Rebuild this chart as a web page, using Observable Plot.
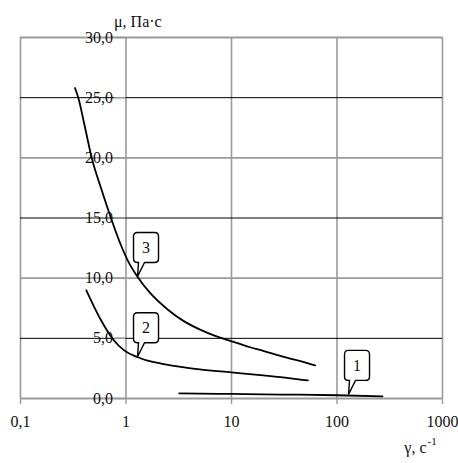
<!DOCTYPE html>
<html>
<head>
<meta charset="utf-8">
<script src="https://cdn.jsdelivr.net/npm/d3@7"></script>
<script src="https://cdn.jsdelivr.net/npm/@observablehq/plot@0.6"></script>
<style>
  html, body { margin: 0; padding: 0; background: #fff; }
</style>
</head>
<body>
<div id="chart"></div>
<script>
// ---- data ----
const xTicks = [0.1, 1, 10, 100, 1000];
const xTickLabels = ["0,1", "1", "10", "100", "1000"];
const yTicks = [0, 5, 10, 15, 20, 25, 30];
const yTickLabels = ["0,0", "5,0", "10,0", "15,0", "20,0", "25,0", "30,0"];
const blackGrid = [5, 15, 25];
const greyGrid = [0, 10, 20, 30];

const curve1X = [3.2, 10, 30, 100, 270];
const curve1Y = [0.42, 0.38, 0.33, 0.27, 0.18];

const curve2X = [0.42, 0.5, 0.58, 0.75, 0.96, 1.3, 1.6, 2.15, 3.57, 5, 10, 20, 35, 53];
const curve2Y = [9.0, 7.6, 6.5, 4.95, 4.0, 3.43, 3.14, 2.9, 2.58, 2.42, 2.17, 1.92, 1.7, 1.5];

const curve3X = [0.328, 0.353, 0.407, 0.473, 0.589, 0.72, 0.89, 1.07, 1.29, 1.7, 2.48, 3.5, 5.1, 7, 10, 15, 20, 30, 45, 62];
const curve3Y = [25.8, 25, 22.6, 20, 17.3, 15, 12.8, 11.25, 10.1, 8.75, 7.4, 6.45, 5.7, 5.2, 4.75, 4.26, 3.95, 3.5, 3.1, 2.75];

const calloutText = ["1", "2", "3"];
const calloutX = [130, 1.3, 1.3];
const calloutY = [0.3, 3.43, 10.1];

const yTitle = "μ, Па·с";
const xTitle = "γ, с";
const xTitleSup = "-1";

// ---- build ----
const toPts = (xs, ys) => xs.map((x, i) => ({x, y: ys[i]}));
const curves = [toPts(curve1X, curve1Y), toPts(curve2X, curve2Y), toPts(curve3X, curve3Y)];
const FONT = "Liberation Serif, DejaVu Serif, Noto Serif, Times New Roman, Times, serif";
const GREY = "#9a9a9a";
const INK = "#111";

const chart = Plot.plot({
  width: 458,
  height: 463,
  marginLeft: 20,
  marginRight: 16,
  marginTop: 37,
  marginBottom: 65,
  style: {fontFamily: FONT, background: "#fff", color: INK},
  x: {type: "log", domain: [0.1, 1000], axis: null},
  y: {domain: [0, 30], axis: null},
  marks: [
    Plot.ruleX(xTicks, {x: d => d, stroke: GREY, strokeWidth: 1.6}),
    Plot.ruleY(greyGrid, {y: d => d, stroke: GREY, strokeWidth: 1.8}),
    Plot.ruleY(blackGrid, {y: d => d, stroke: "#000", strokeWidth: 1}),
    // x tick marks
    Plot.ruleX(xTicks, {x: d => d, y1: 0, y2: -0.5, stroke: GREY, strokeWidth: 1.4}),
    // y tick marks at x = 1
    Plot.ruleY(yTicks, {y: d => d, x1: 0.78, x2: 1, stroke: GREY, strokeWidth: 1.4}),
    // curves
    ...curves.map(c => Plot.line(c, {x: "x", y: "y", stroke: "#000", strokeWidth: 1.8, curve: "monotone-x"})),
    // y tick labels
    Plot.text(yTicks, {x: () => 1, y: d => d, text: (d, i) => yTickLabels[i], textAnchor: "end", dx: -13, fontSize: 16, fontFamily: FONT, fill: INK}),
    // x tick labels
    Plot.text(xTicks, {x: d => d, y: () => 0, text: (d, i) => xTickLabels[i], lineAnchor: "top", dy: 17, fontSize: 16, fontFamily: FONT, fill: INK}),
    // axis titles
    Plot.text([yTitle], {x: () => 1, y: () => 30, text: d => d, textAnchor: "start", dx: -12, dy: -16, fontSize: 16, fontFamily: FONT, fill: INK}),
    Plot.text([xTitle], {x: () => 1000, y: () => 0, text: d => d, textAnchor: "end", dx: -16, dy: 49, fontSize: 16, fontFamily: FONT, fill: INK}),
    Plot.text([xTitleSup], {x: () => 1000, y: () => 0, text: d => d, textAnchor: "start", dx: -15, dy: 43, fontSize: 11, fontFamily: FONT, fill: INK})
  ]
});

// callouts positioned through the chart's scales
const sx = chart.scale("x"), sy = chart.scale("y");
const svg = d3.select(chart);
const g = svg.append("g");
calloutText.forEach((t, i) => {
  const tx = sx.apply(calloutX[i]);
  const ty = sy.apply(calloutY[i]);
  const left = tx - 4, right = tx + 21, top = ty - 44, bottom = ty - 14, r = 4;
  const d = `M${tx},${ty}L${tx + 1},${bottom}H${left + r}Q${left},${bottom} ${left},${bottom - r}` +
            `V${top + r}Q${left},${top} ${left + r},${top}H${right - r}Q${right},${top} ${right},${top + r}` +
            `V${bottom - r}Q${right},${bottom} ${right - r},${bottom}H${tx + 7}Z`;
  g.append("path").attr("d", d).attr("fill", "#fff").attr("stroke", "#000").attr("stroke-width", 1.4);
  g.append("text").attr("x", (left + right) / 2).attr("y", (top + bottom) / 2)
    .attr("dy", "0.35em").attr("text-anchor", "middle")
    .style("font-family", FONT).attr("font-size", 16).attr("fill", INK).text(t);
});

document.getElementById("chart").appendChild(chart);
</script>
</body>
</html>
